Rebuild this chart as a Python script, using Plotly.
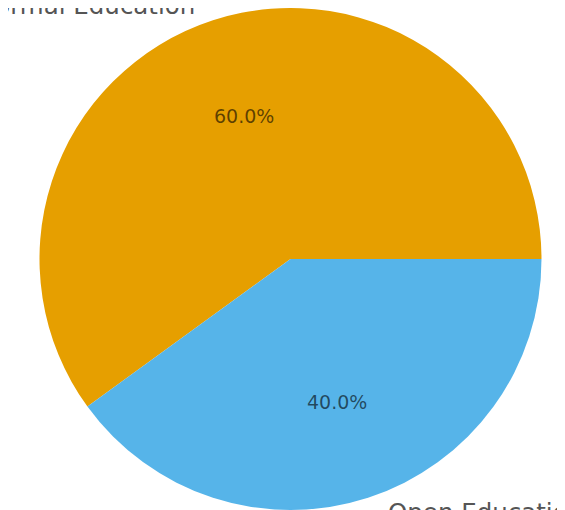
import math
import plotly.graph_objects as go

labels = ["Formal Education", "Open Education"]
values = [60, 40]
colors = ["#E69F00", "#56B4E9"]

W, H = 565, 510
total = sum(values)
# pie geometry (figure px)
dom_x = [0.0, 1.0]
dom_y = [8 / H, 1.0]
cx = (dom_x[0] + dom_x[1]) / 2 * W
cy = H - (dom_y[0] + dom_y[1]) / 2 * H
r = min((dom_x[1] - dom_x[0]) * W, (dom_y[1] - dom_y[0]) * H) / 2

# first slice starts at 3 o'clock and runs counterclockwise
rotation = 90 - 360 * values[0] / total

fig = go.Figure()
fig.add_trace(go.Pie(
    labels=labels,
    values=values,
    marker=dict(colors=colors, line=dict(width=0)),
    sort=False,
    direction="counterclockwise",
    rotation=rotation,
    textinfo="none",
    domain=dict(x=dom_x, y=dom_y),
    showlegend=False,
    hoverinfo="label+percent",
))

# percentage labels at 0.6 radius along each slice's bisector
start = 0.0
for lab, v in zip(labels, values):
    frac = v / total
    mid = math.radians((start + frac / 2) * 360)
    x = cx + 0.6 * r * math.cos(mid)
    y = cy - 0.6 * r * math.sin(mid)
    fig.add_annotation(text=f"{frac * 100:.1f}%", xref="paper", yref="paper",
                       x=x / W, y=1 - y / H, xanchor="center", yanchor="middle",
                       showarrow=False,
                       font=dict(family="DejaVu Sans", size=19, color="rgba(0,0,0,0.6)"))
    start += frac

fig.add_annotation(text=labels[0], xref="paper", yref="paper", x=189 / W, y=1 - 14 / H,
                   xanchor="right", yanchor="bottom", showarrow=False,
                   font=dict(family="DejaVu Sans", size=24.5, color="#555555"))
fig.add_annotation(text=labels[1], xref="paper", yref="paper", x=378 / W, y=1 - 488 / H,
                   xanchor="left", yanchor="top", showarrow=False,
                   font=dict(family="DejaVu Sans", size=24.5, color="#555555"))

fig.update_layout(
    width=W, height=H,
    margin=dict(l=0, r=0, t=0, b=0),
    paper_bgcolor="white", plot_bgcolor="white",
)
fig.write_html("out.html")
